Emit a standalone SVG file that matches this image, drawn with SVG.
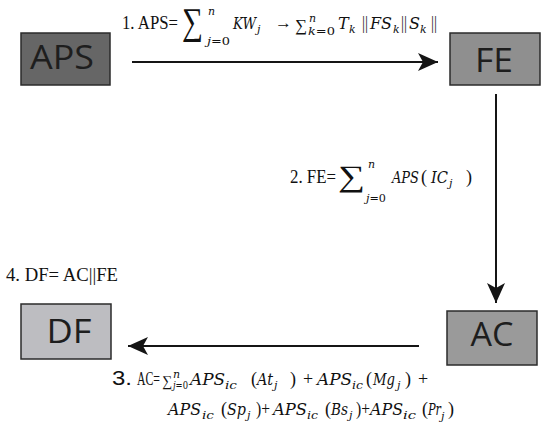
<svg xmlns="http://www.w3.org/2000/svg" width="550" height="427" viewBox="0 0 550 427">
<defs>
<style>
.box{stroke:#2b2b2b;stroke-width:1.5}
.bt{font-family:"Open Sans","Liberation Sans",sans-serif;font-size:33px;fill:#1e1e1e;text-anchor:middle}
.r{font-family:"Liberation Serif",serif;font-size:18px;fill:#111}
.m{font-family:"DejaVu Serif","Liberation Serif",serif;font-style:italic;font-size:16px;fill:#111}
.s{font-family:"DejaVu Serif","Liberation Serif",serif;font-style:italic;font-size:11px;fill:#111}
.sg{font-family:"Liberation Serif","DejaVu Serif",serif;fill:#111}
.c{stroke:#151515;stroke-width:2;fill:none}
</style>
<marker id="arr" viewBox="0 0 20 18" refX="20" refY="9" markerWidth="20" markerHeight="18" markerUnits="userSpaceOnUse" orient="auto">
<path d="M0,0 L20,9 L0,18 L5,9 Z" fill="#151515"/>
</marker>
</defs>
<rect width="550" height="427" fill="#ffffff"/>

<g id="connectors">
<line class="c" x1="132" y1="62" x2="438" y2="62" marker-end="url(#arr)"/>
<line class="c" x1="496" y1="94" x2="496" y2="303" marker-end="url(#arr)"/>
<line class="c" x1="419" y1="346" x2="128" y2="346" marker-end="url(#arr)"/>
</g>

<g id="node-aps">
<rect class="box" x="21" y="33" width="89" height="52" fill="#666666"/>
<text class="bt" x="62" y="69" textLength="64" lengthAdjust="spacingAndGlyphs">APS</text>
</g>
<g id="node-fe">
<rect class="box" x="450" y="33" width="90" height="52" fill="#8f8f8f"/>
<text class="bt" x="494" y="72" textLength="38" lengthAdjust="spacingAndGlyphs">FE</text>
</g>
<g id="node-ac">
<rect class="box" x="447" y="311" width="90" height="54" fill="#9a9a9a"/>
<text class="bt" x="492" y="346" textLength="43" lengthAdjust="spacingAndGlyphs">AC</text>
</g>
<g id="node-df">
<rect class="box" x="21" y="304" width="90" height="55" fill="#bdbdc1"/>
<text class="bt" x="69" y="343" textLength="45" lengthAdjust="spacingAndGlyphs">DF</text>
</g>

<g id="label-1">
<text class="r" x="122" y="29" textLength="56" lengthAdjust="spacingAndGlyphs">1. APS=</text>
<text class="sg" transform="translate(182,34) scale(1,1.45)" x="0" y="0" font-size="26" textLength="21" lengthAdjust="spacingAndGlyphs">∑</text>
<text class="s" x="208" y="15">n</text>
<text class="s" x="207" y="45" textLength="23" lengthAdjust="spacingAndGlyphs">j<tspan font-style="normal">=0</tspan></text>
<text class="m" x="233" y="29" textLength="23" lengthAdjust="spacingAndGlyphs">KW</text>
<text class="s" x="257" y="33">j</text>
<text class="sg" x="275" y="28" font-size="16" textLength="17" lengthAdjust="spacingAndGlyphs">→</text>
<text class="sg" x="295" y="31" font-size="17" textLength="12" lengthAdjust="spacingAndGlyphs">∑</text>
<text class="s" x="309" y="22" font-size="10">n</text>
<text class="s" x="308" y="35" font-size="10" textLength="27" lengthAdjust="spacingAndGlyphs">k<tspan font-style="normal">=0</tspan></text>
<text class="m" x="338" y="29">T</text>
<text class="s" x="349" y="33">k</text>
<text class="r" x="362" y="29" textLength="6" lengthAdjust="spacingAndGlyphs">||</text>
<text class="m" x="370" y="29" textLength="22" lengthAdjust="spacingAndGlyphs">FS</text>
<text class="s" x="393" y="33">k</text>
<text class="r" x="401" y="29" textLength="6" lengthAdjust="spacingAndGlyphs">||</text>
<text class="m" x="409" y="29">S</text>
<text class="s" x="420" y="33">k</text>
<text class="r" x="431" y="29" textLength="6" lengthAdjust="spacingAndGlyphs">||</text>
</g>

<g id="label-2">
<text class="r" x="290" y="183" textLength="46" lengthAdjust="spacingAndGlyphs">2. FE=</text>
<text class="sg" transform="translate(338,186) scale(1,1.1)" x="0" y="0" font-size="27" textLength="27" lengthAdjust="spacingAndGlyphs">∑</text>
<text class="s" x="368" y="168">n</text>
<text class="s" x="366" y="202" textLength="20" lengthAdjust="spacingAndGlyphs">j<tspan font-style="normal">=0</tspan></text>
<text class="m" x="392" y="183" textLength="27" lengthAdjust="spacingAndGlyphs">APS</text>
<text class="r" x="421" y="183">(</text>
<text class="m" x="431" y="183" textLength="17" lengthAdjust="spacingAndGlyphs">IC</text>
<text class="s" x="449" y="187">j</text>
<text class="r" x="466" y="183">)</text>
</g>

<g id="label-4">
<text class="r" x="6" y="281" font-size="18.5" textLength="112" lengthAdjust="spacingAndGlyphs">4. DF= AC||FE</text>
</g>

<g id="label-3">
<text x="112" y="385" font-family="Liberation Sans, sans-serif" font-size="20" fill="#111" textLength="20" lengthAdjust="spacingAndGlyphs">3.</text>
<text class="r" x="137" y="385" font-size="14" textLength="23" lengthAdjust="spacingAndGlyphs">AC=</text>
<text class="sg" x="162" y="386" font-size="15" textLength="10" lengthAdjust="spacingAndGlyphs">∑</text>
<text class="s" x="173" y="378" font-size="9">n</text>
<text class="s" x="173" y="389" font-size="9" textLength="15" lengthAdjust="spacingAndGlyphs">j<tspan font-style="normal">=0</tspan></text>
<text class="m" x="190" y="385" textLength="35" lengthAdjust="spacingAndGlyphs">APS</text>
<text class="s" x="225" y="389" textLength="12" lengthAdjust="spacingAndGlyphs">ic</text>
<text class="r" x="251" y="385">(</text>
<text class="m" x="257" y="385" textLength="16" lengthAdjust="spacingAndGlyphs">At</text>
<text class="s" x="274" y="389">j</text>
<text class="r" x="290" y="385">)</text>
<text class="r" x="303" y="385">+</text>
<text class="m" x="317" y="385" textLength="35" lengthAdjust="spacingAndGlyphs">APS</text>
<text class="s" x="352" y="389" textLength="11" lengthAdjust="spacingAndGlyphs">ic</text>
<text class="r" x="366" y="385">(</text>
<text class="m" x="373" y="385" textLength="22" lengthAdjust="spacingAndGlyphs">Mg</text>
<text class="s" x="397" y="389">j</text>
<text class="r" x="405" y="385">)</text>
<text class="r" x="418" y="385">+</text>

<text class="m" x="168" y="415" textLength="33" lengthAdjust="spacingAndGlyphs">APS</text>
<text class="s" x="202" y="419" textLength="12" lengthAdjust="spacingAndGlyphs">ic</text>
<text class="r" x="221" y="415">(</text>
<text class="m" x="227" y="415" textLength="19" lengthAdjust="spacingAndGlyphs">Sp</text>
<text class="s" x="247" y="419">j</text>
<text class="r" x="256" y="415" textLength="14" lengthAdjust="spacingAndGlyphs">)+</text>
<text class="m" x="273" y="415" textLength="34" lengthAdjust="spacingAndGlyphs">APS</text>
<text class="s" x="307" y="419" textLength="11" lengthAdjust="spacingAndGlyphs">ic</text>
<text class="r" x="325" y="415">(</text>
<text class="m" x="331" y="415" textLength="17" lengthAdjust="spacingAndGlyphs">Bs</text>
<text class="s" x="349" y="419">j</text>
<text class="r" x="356" y="415" textLength="14" lengthAdjust="spacingAndGlyphs">)+</text>
<text class="m" x="370" y="415" textLength="33" lengthAdjust="spacingAndGlyphs">APS</text>
<text class="s" x="403" y="419" textLength="13" lengthAdjust="spacingAndGlyphs">ic</text>
<text class="r" x="422" y="415">(</text>
<text class="m" x="428" y="415" textLength="13" lengthAdjust="spacingAndGlyphs">Pr</text>
<text class="s" x="441" y="420">j</text>
<text class="r" x="448" y="415">)</text>
</g>
</svg>
